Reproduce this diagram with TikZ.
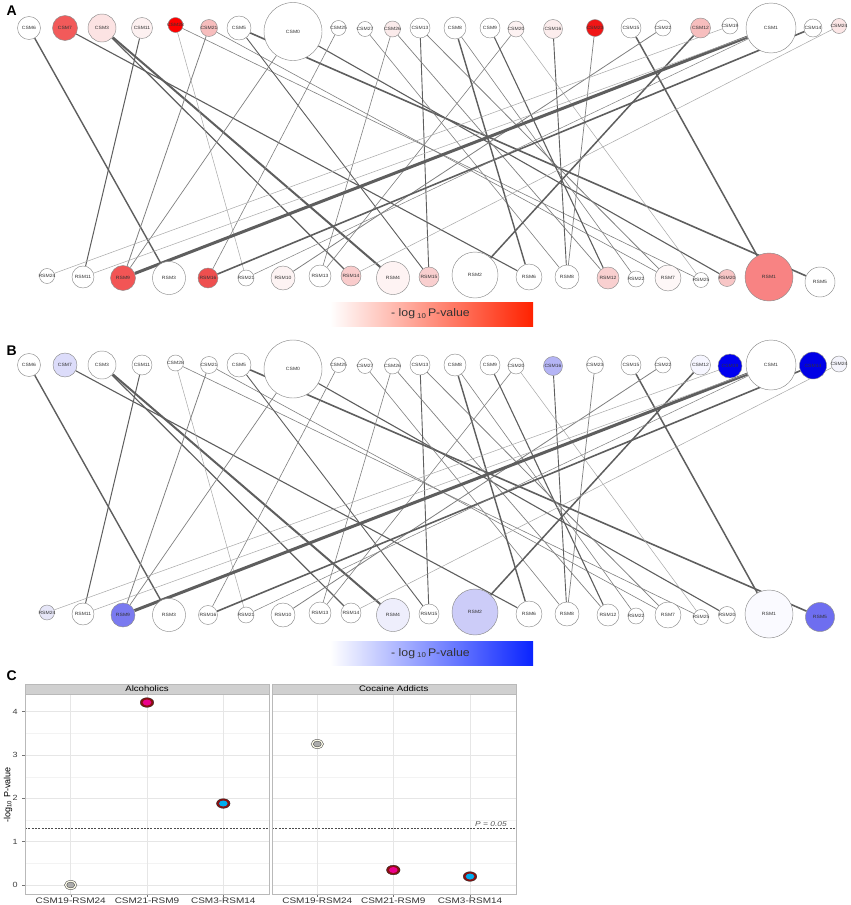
\documentclass[tikz,border=0pt]{standalone}
\usepackage{fontspec}
\setmainfont{Liberation Sans}
\usetikzlibrary{backgrounds,shapes.geometric}
\pgfdeclarelayer{bottom}
\pgfsetlayers{bottom,background,main}
\definecolor{eD}{HTML}{5E5E5E}
\definecolor{eM}{HTML}{808080}
\definecolor{eL}{HTML}{A8A8A8}
\definecolor{aCSM7}{HTML}{F25A5A}
\definecolor{aCSM3}{HTML}{FCE3E3}
\definecolor{aCSM11}{HTML}{FDF1F1}
\definecolor{aCSM28}{HTML}{FF0000}
\definecolor{aCSM21}{HTML}{F7BDBD}
\definecolor{aCSM26}{HTML}{FBEBEB}
\definecolor{aCSM20}{HTML}{FDF2F2}
\definecolor{aCSM16}{HTML}{FCEDED}
\definecolor{aCSM23}{HTML}{F01515}
\definecolor{aCSM12}{HTML}{F7BEBE}
\definecolor{aCSM24}{HTML}{FCE6E6}
\definecolor{aRSM9}{HTML}{F25555}
\definecolor{aRSM16}{HTML}{EE4F4F}
\definecolor{aRSM10}{HTML}{FDF3F3}
\definecolor{aRSM14}{HTML}{F9CCCC}
\definecolor{aRSM4}{HTML}{FEF3F3}
\definecolor{aRSM15}{HTML}{F9CFCF}
\definecolor{aRSM12}{HTML}{F9D0D0}
\definecolor{aRSM7}{HTML}{FEF7F7}
\definecolor{aRSM20}{HTML}{F8C6C6}
\definecolor{aRSM1}{HTML}{F88383}
\definecolor{bCSM7}{HTML}{DCDCFA}
\definecolor{bCSM16}{HTML}{B4B4F5}
\definecolor{bCSM12}{HTML}{F6F6FF}
\definecolor{bCSM19}{HTML}{0000F0}
\definecolor{bCSM14}{HTML}{0000E6}
\definecolor{bCSM24}{HTML}{F4F4FC}
\definecolor{bRSM24}{HTML}{E6E6F8}
\definecolor{bRSM9}{HTML}{7A7AF0}
\definecolor{bRSM4}{HTML}{EEEEFC}
\definecolor{bRSM2}{HTML}{CCCCF8}
\definecolor{bRSM1}{HTML}{FAFAFF}
\definecolor{bRSM5}{HTML}{6E6EF0}
\definecolor{barred}{HTML}{FF2200}
\definecolor{barblue}{HTML}{0A24FF}
\definecolor{ptred}{HTML}{8B1010}
\definecolor{stripgray}{HTML}{D0D0D0}
\definecolor{gridmaj}{HTML}{E6E6E6}
\definecolor{gridmin}{HTML}{F3F3F3}
\newcommand\PtRed[4]{%
  \node[ellipse, minimum width=13.5pt, minimum height=9.6pt, inner sep=0pt, fill=ptred, draw=black!85, line width=0.4pt] (#1) at (#2,#3) {};
  \fill[#4] (#1.center) ellipse [x radius=4.3pt, y radius=3.0pt];}
\newcommand\PtGray[3]{%
  \node[ellipse, minimum width=12.5pt, minimum height=9.2pt, inner sep=0pt, fill=white!92!yellow, draw=black!65, line width=0.45pt] (#1) at (#2,#3) {};
  \filldraw[fill=gray!65, draw=black!70, line width=0.4pt] (#1.center) ellipse [x radius=4.0pt, y radius=2.9pt];}
\begin{document}
\begin{tikzpicture}[x=1pt,y=-1pt,
  net/.style={circle, draw=black!45, line width=0.45pt, inner sep=0pt},
  netlbl/.style={font=\fontsize{4.6}{5}\selectfont, text=black!80, inner sep=0pt, xscale=1.1},
  letter/.style={anchor=base west, font=\bfseries\fontsize{14}{14}\selectfont},
  barlbl/.style={font=\fontsize{11}{11}\selectfont, text=black!80, xscale=1.12},
  tick/.style={font=\fontsize{7.5}{8}\selectfont, text=black!75, xscale=1.2},
  xlab/.style={font=\fontsize{8}{8}\selectfont, text=black!80, xscale=1.25, anchor=base},
  strip/.style={font=\fontsize{8}{8}\selectfont, xscale=1.2, anchor=base}]
\useasboundingbox (0,0) rectangle (851,905);
\begin{pgfonlayer}{bottom}
\fill[white] (0,0) rectangle (851,905);
\end{pgfonlayer}

% ---------- networks A and B ----------
\foreach \n/\x/\ya/\ra/\fa/\yb/\rb/\fb in {
 CSM6/29/28/11.5/white/365/11.5/white,
 CSM7/65/28/12.5/aCSM7/365/12/bCSM7,
 CSM3/102/28/14/aCSM3/365/14/white,
 CSM11/142/28/10.5/aCSM11/365/10/white,
 CSM28/175.5/25/7.5/aCSM28/363/8/white,
 CSM21/209/28/8.5/aCSM21/365/8.5/white,
 CSM5/239/28/12/white/365/12/white,
 CSM0/293/31.5/29/white/369/29/white,
 CSM25/338.5/28/7.5/white/365/7.5/white,
 CSM27/365/29/7.5/white/366/7.5/white,
 CSM26/392.5/29/8/aCSM26/366/8/white,
 CSM13/420/28/10/white/365/10/white,
 CSM8/455/28/11/white/365/11/white,
 CSM9/490/28/10/white/365/10/white,
 CSM20/516/29/8/aCSM20/366/8/white,
 CSM16/553/29/9.5/aCSM16/366/9.5/bCSM16,
 CSM23/595/28/8.5/aCSM23/365/8.5/white,
 CSM15/631/28/10/white/365/10/white,
 CSM22/663/28/8/white/365/8/white,
 CSM12/700.5/28/10/aCSM12/365/10/bCSM12,
 CSM19/730/26/8/white/366/12/bCSM19,
 CSM1/771/28/25/white/365/25/white,
 CSM14/813/28/9/white/365.5/13.5/bCSM14,
 CSM24/839/26/7.5/aCSM24/364/8/bCSM24,
 RSM24/47/276/7.5/white/612.5/7.5/bRSM24,
 RSM11/83/277/11/white/614/11/white,
 RSM9/123/278/12.5/aRSM9/615/12/bRSM9,
 RSM3/169/278/16.5/white/615/16.5/white,
 RSM16/208/278/10/aRSM16/615/9.5/white,
 RSM21/246/278/8/white/615/8/white,
 RSM10/283/278/12/aRSM10/615/12/white,
 RSM13/320/276/11/white/613/11/white,
 RSM14/351/276/10/aRSM14/613/10/white,
 RSM4/393/278/16.5/aRSM4/615/16.5/bRSM4,
 RSM15/429/277/10/aRSM15/614/10/white,
 RSM2/475/275/23/white/612/23/bRSM2,
 RSM6/529/277/13/white/614/13/white,
 RSM8/567/277/12/white/614/12/white,
 RSM12/608/278/11/aRSM12/615/11/white,
 RSM22/636/279/8/white/616/8/white,
 RSM7/668/278/13/aRSM7/615/13/white,
 RSM25/701/280/7.5/white/617/7.5/white,
 RSM20/727/278/8.5/aRSM20/615/8.5/white,
 RSM1/769/277/24/aRSM1/614/24/bRSM1,
 RSM5/820/282/15/white/617/14.5/bRSM5}
{
 \node[net, minimum size={2*\ra}, fill=\fa, label={[netlbl]center:\n}] (A-\n) at (\x,\ya) {};
 \node[net, minimum size={2*\rb}, fill=\fb, label={[netlbl]center:\n}] (B-\n) at (\x,\yb) {};
}

\begin{pgfonlayer}{background}
\foreach \a/\b/\w/\c in {
 CSM6/RSM3/1.4/eD, CSM7/RSM6/1.1/eD, CSM3/RSM4/2.0/eD, CSM3/RSM14/1.2/eD,
 CSM11/RSM11/1.0/eD, CSM28/RSM21/0.5/eL, CSM21/RSM9/0.8/eM, CSM28/RSM25/0.6/eM,
 CSM21/RSM7/0.6/eM, CSM5/RSM5/1.6/eD, CSM5/RSM15/0.9/eD, CSM0/RSM9/0.7/eM,
 CSM0/RSM20/1.1/eD, CSM25/RSM16/0.6/eM, CSM26/RSM13/0.6/eM, CSM26/RSM12/0.7/eM,
 CSM27/RSM8/0.6/eM, CSM13/RSM15/0.9/eD, CSM13/RSM7/0.8/eM, CSM8/RSM6/1.4/eD,
 CSM8/RSM22/0.6/eM, CSM9/RSM12/1.1/eD, CSM20/RSM13/0.6/eM, CSM20/RSM25/0.5/eL,
 CSM16/RSM8/0.9/eD, CSM23/RSM8/0.7/eM, CSM15/RSM1/1.5/eD, CSM12/RSM2/1.5/eD,
 CSM22/RSM10/0.8/eM, CSM19/RSM24/0.5/eL, CSM1/RSM9/3.0/eD, CSM14/RSM16/1.6/eD,
 CSM1/RSM11/0.5/eL, CSM1/RSM21/0.5/eM, CSM24/RSM14/0.5/eL}
{
 \draw[line width=\w pt, draw=\c] (A-\a) -- (A-\b);
 \draw[line width=\w pt, draw=\c] (B-\a) -- (B-\b);
}
\end{pgfonlayer}

% colour bars
\shade[left color=white, right color=barred] (330,302) rectangle (533,326);
\node[barlbl] (barA) at (430.5,314) {- log\,\raisebox{-1.2pt}{\fontsize{7}{7}\selectfont 10}\,P-value};
\shade[left color=white, right color=barblue] (330,641.5) rectangle (533,665.5);
\node[barlbl] (barB) at (430.5,653.5) {- log\,\raisebox{-1.2pt}{\fontsize{7}{7}\selectfont 10}\,P-value};

% panel letters
\node[letter] (lA) at (3,15.5) {A};
\node[letter] (lB) at (3,355) {B};
\node[letter] (lC) at (3,680) {C};

% ---------- panel C ----------
\foreach \xa/\xb in {25/269.5, 272/516} {
  \fill[white] (\xa,694) rectangle (\xb,894);
  \foreach \v in {0.5,1.5,2.5,3.5}
    \draw[gridmin, line width=0.35pt] (\xa,{885-43.33*\v}) -- (\xb,{885-43.33*\v});
  \foreach \v in {0,1,2,3,4}
    \draw[gridmaj, line width=0.5pt] (\xa,{885-43.33*\v}) -- (\xb,{885-43.33*\v});
}
\foreach \x in {70.7,147,223.3,317.3,393.3,470} {
  \draw[gridmaj, line width=0.5pt] (\x,694) -- (\x,894);
  \draw[black!55, line width=0.4pt] (\x,894) -- (\x,897);
}
\draw[black!70, line width=0.7pt, dash pattern=on 2pt off 1.3pt] (25,828.6) -- (269.5,828.6);
\draw[black!70, line width=0.7pt, dash pattern=on 2pt off 1.3pt] (272,828.6) -- (516,828.6);
\draw[gray!55, line width=0.5pt] (25,694) rectangle (269.5,894);
\draw[gray!55, line width=0.5pt] (272,694) rectangle (516,894);
\filldraw[fill=stripgray, draw=gray!55, line width=0.5pt] (25,684) rectangle (269.5,694);
\filldraw[fill=stripgray, draw=gray!55, line width=0.5pt] (272,684) rectangle (516,694);
\node[strip] (s1) at (147,691.6) {Alcoholics};
\node[strip] (s2) at (393.7,691.6) {Cocaine Addicts};
\node[anchor=base east, font=\itshape\fontsize{7}{7}\selectfont, text=black!65, xscale=1.2] (p05) at (511,826) {P = 0.05};

\foreach \v in {0,1,2,3,4} {
  \draw[black!55, line width=0.4pt] (22,{885-43.33*\v}) -- (25,{885-43.33*\v});
  \node[tick, anchor=east] (yt\v) at (21.8,{885-43.33*\v}) {\v};
}
\node[rotate=90, font=\fontsize{9}{9}\selectfont] (ytitle) at (8,795) {-log\textsubscript{10} P-value};

\node[xlab] (x1) at (70.7,903.3) {CSM19-RSM24};
\node[xlab] (x2) at (147,903.3) {CSM21-RSM9};
\node[xlab] (x3) at (223.3,903.3) {CSM3-RSM14};
\node[xlab] (x4) at (317.3,903.3) {CSM19-RSM24};
\node[xlab] (x5) at (393.3,903.3) {CSM21-RSM9};
\node[xlab] (x6) at (470,903.3) {CSM3-RSM14};

\PtGray{pt1}{70.7}{885}
\PtRed{pt2}{147}{702.5}{magenta}
\PtRed{pt3}{223.3}{803.5}{cyan}
\PtGray{pt4}{317.3}{744}
\PtRed{pt5}{393.3}{870}{magenta}
\PtRed{pt6}{470}{876.5}{cyan}
\end{tikzpicture}
\end{document}
